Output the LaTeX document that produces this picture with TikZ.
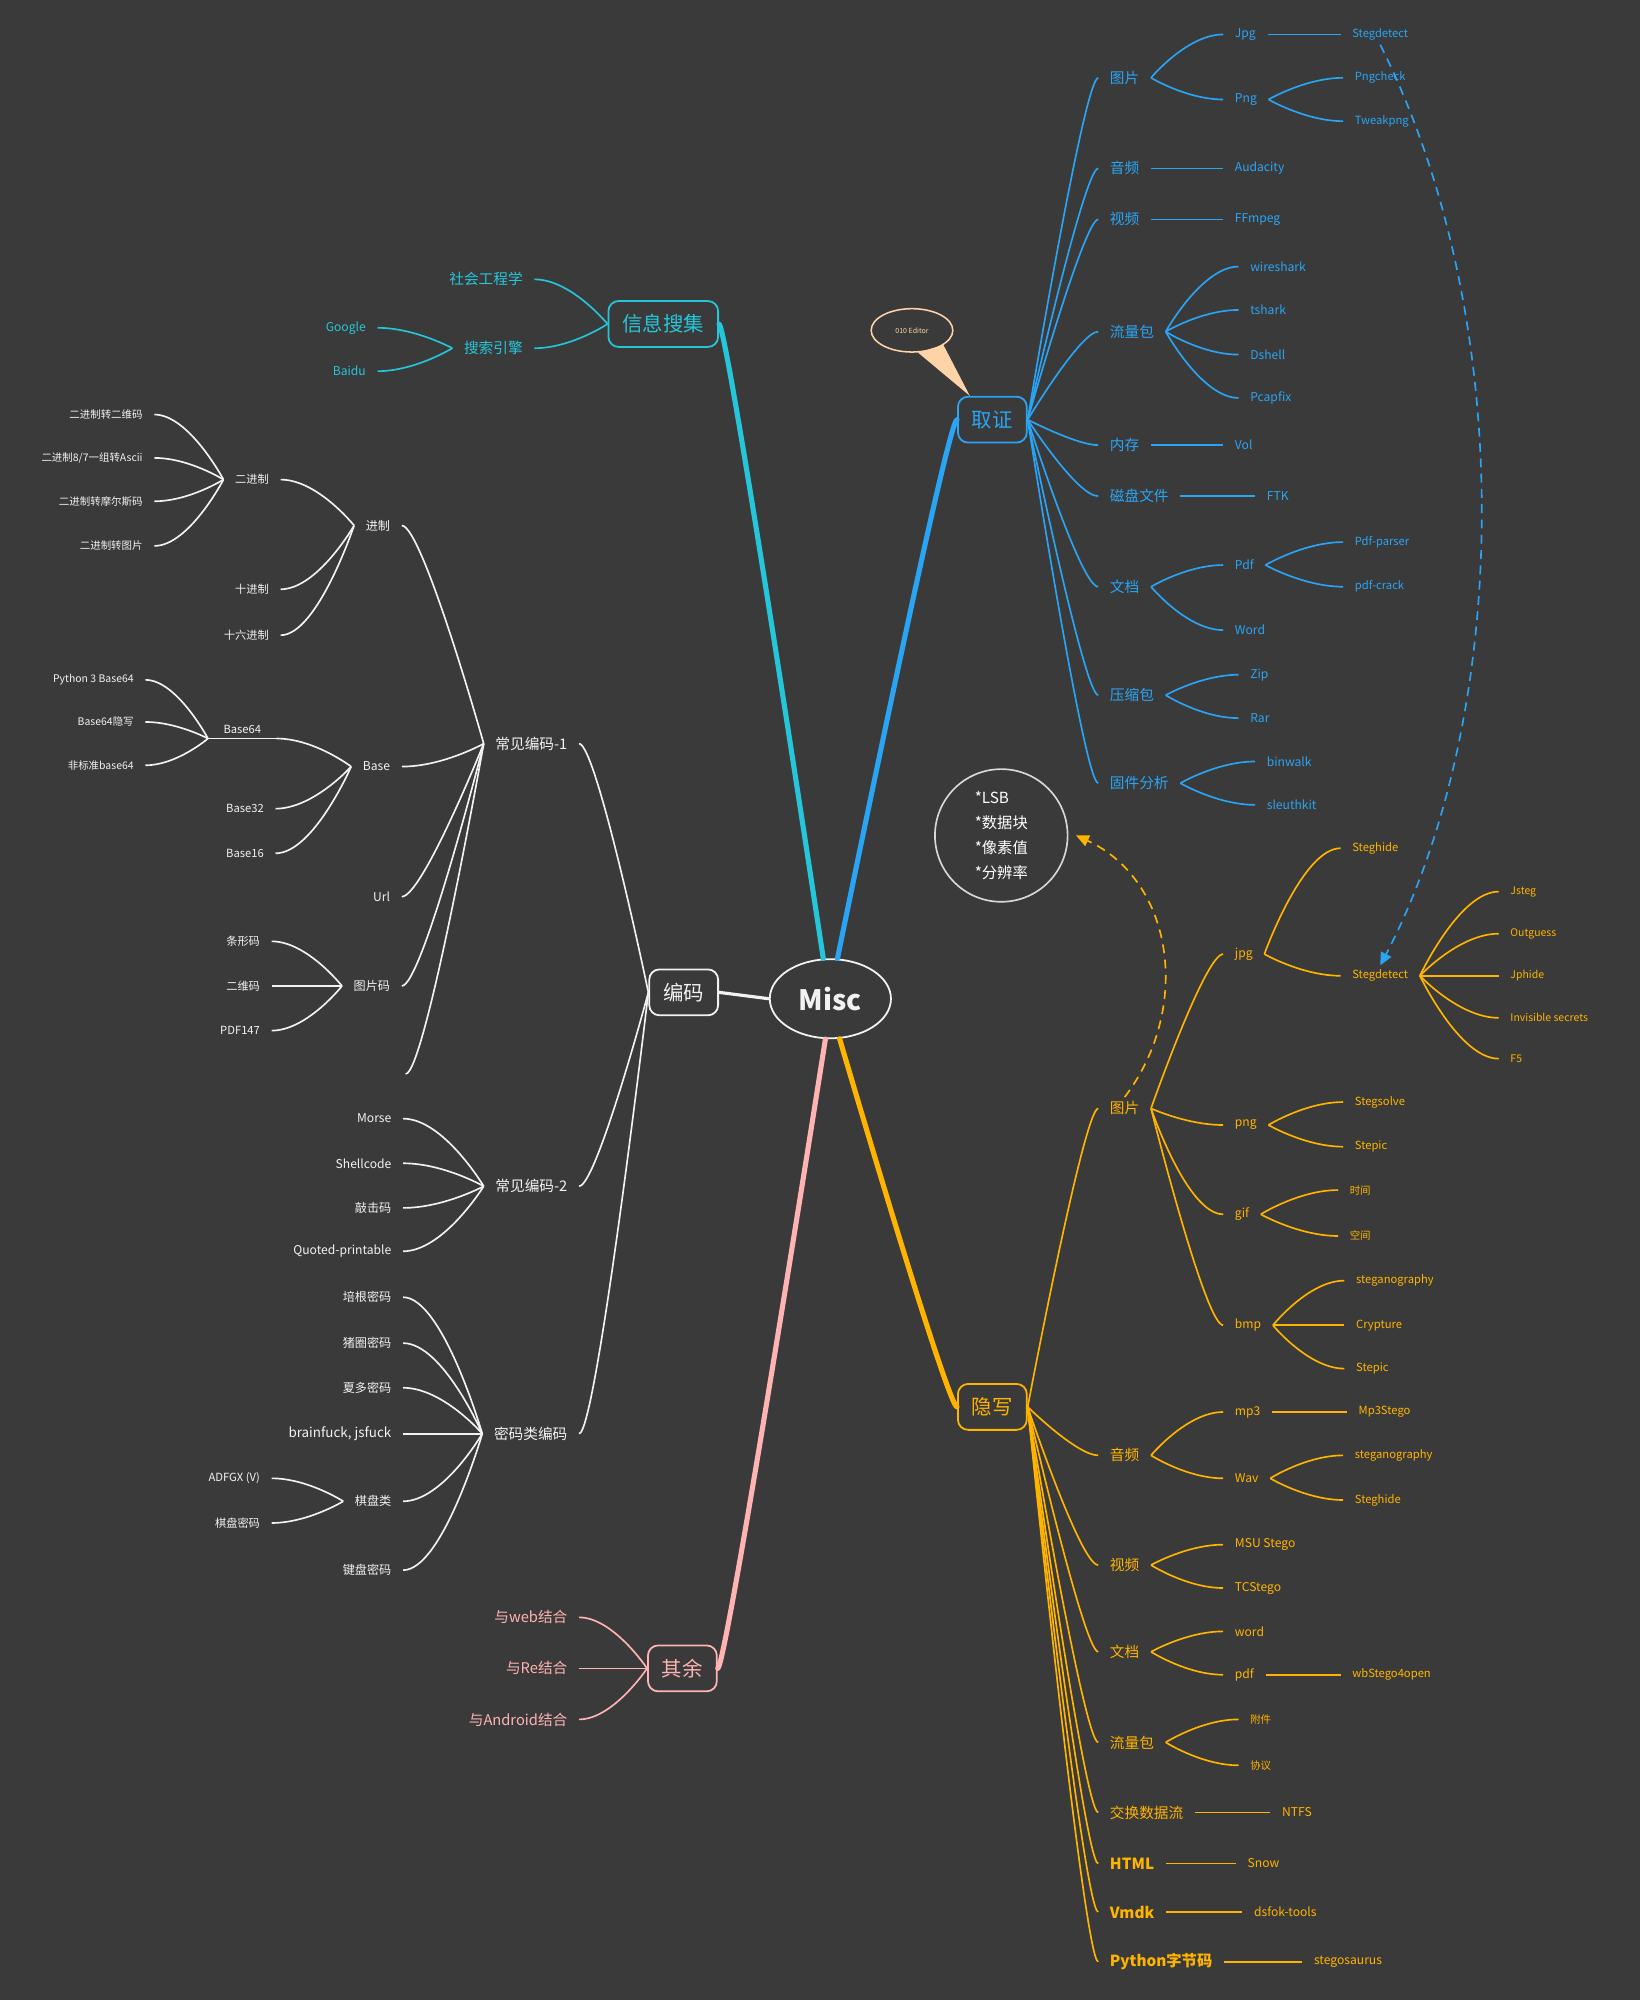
\documentclass[tikz,border=0pt]{standalone}
\usepackage{fontspec}
\setmainfont{Noto Sans CJK SC}
\usetikzlibrary{calc,shapes.geometric,arrows.meta}

\definecolor{bgc}{HTML}{3A3A3A}
\definecolor{cInfo}{HTML}{26C6DA}
\definecolor{cFore}{HTML}{2AA5F5}
\definecolor{cSteg}{HTML}{FFB400}
\definecolor{cRest}{HTML}{FFB3B3}
\definecolor{cCode}{HTML}{F2F2F2}
\definecolor{cPeach}{HTML}{FFD3A8}
\definecolor{cNote}{HTML}{D8D8D8}

\tikzset{
  fan/.style={to path={.. controls ($(\tikztostart)!#1!(\tikztostart-|\tikztotarget)$) and (\tikztotarget) .. (\tikztotarget)}},
  fan/.default=0.5,
  topic/.style={draw, rounded corners=8pt, line width=1.4pt, inner xsep=11pt, minimum width=54pt, minimum height=36pt, font=\fontsize{16}{18}\selectfont},
  lv2/.style={inner xsep=9pt, font=\fontsize{11.5}{13}\selectfont},
  lv3/.style={inner xsep=9pt, font=\fontsize{9.5}{11}\selectfont},
  lv4/.style={inner xsep=9pt, font=\fontsize{8.8}{10}\selectfont},
  lv5/.style={inner xsep=9pt, font=\fontsize{8.2}{9}\selectfont},
  big/.style={inner xsep=9pt, font=\fontsize{12}{14}\selectfont\bfseries},
  twig/.style={line width=1.3pt},
  bough/.style={line width=4pt, line cap=round},
}

\begin{document}
\begin{tikzpicture}[x=1pt, y=-1pt]
      \fill[bgc] (0,0) rectangle (1286,1568);
      \useasboundingbox (0,0) rectangle (1286,1568);

      \node[ellipse, draw=cCode, line width=1.4pt, minimum width=95pt, minimum height=62pt, text=cCode, font=\fontsize{22}{24}\selectfont\bfseries] (misc) at (651,783) {Misc};

      \node[topic, cInfo] (xinxi) at (520,254) {信息搜集};
      \node[lv2, cInfo, anchor=east] (shehui) at (419,219) {社会工程学};
      \node[lv2, cInfo, anchor=east] (search) at (419,273) {搜索引擎};
      \node[lv3, cInfo, anchor=east] (google) at (296,257) {Google};
      \node[lv3, cInfo, anchor=east] (baidu) at (296,291) {Baidu};

      \node[topic, cFore] (quzheng) at (778,329) {取证};
      \node[ellipse, draw=cPeach, line width=1.2pt, minimum width=64pt, minimum height=34pt, text=cPeach, font=\fontsize{5.5}{6}\selectfont] (edit) at (715,259) {010 Editor};
      \node[lv2, cFore, anchor=west] (fPic) at (861,61) {图片};
      \node[lv2, cFore, anchor=west] (fAud) at (861,132) {音频};
      \node[lv2, cFore, anchor=west] (fVid) at (861,172) {视频};
      \node[lv2, cFore, anchor=west] (fPcap) at (861,260) {流量包};
      \node[lv2, cFore, anchor=west] (fMem) at (861,349) {内存};
      \node[lv2, cFore, anchor=west] (fDisk) at (861,389) {磁盘文件};
      \node[lv2, cFore, anchor=west] (fDoc) at (861,460) {文档};
      \node[lv2, cFore, anchor=west] (fZip) at (861,545) {压缩包};
      \node[lv2, cFore, anchor=west] (fFw) at (861,614) {固件分析};
      \node[lv3, cFore, anchor=west] (fJpg) at (959,27) {Jpg};
      \node[lv3, cFore, anchor=west] (fPng) at (959,78) {Png};
      \node[lv3, cFore, anchor=west] (fAudacity) at (959,132) {Audacity};
      \node[lv3, cFore, anchor=west] (fFfmpeg) at (959,172) {FFmpeg};
      \node[lv3, cFore, anchor=west] (fWire) at (971,209) {wireshark};
      \node[lv3, cFore, anchor=west] (fTshark) at (971,243) {tshark};
      \node[lv3, cFore, anchor=west] (fDshell) at (971,278) {Dshell};
      \node[lv3, cFore, anchor=west] (fPcapfix) at (971,312) {Pcapfix};
      \node[lv3, cFore, anchor=west] (fVol) at (959,349) {Vol};
      \node[lv3, cFore, anchor=west] (fFtk) at (984,389) {FTK};
      \node[lv3, cFore, anchor=west] (fPdf) at (959,443) {Pdf};
      \node[lv3, cFore, anchor=west] (fWord) at (959,494) {Word};
      \node[lv3, cFore, anchor=west] (fZipA) at (971,529) {Zip};
      \node[lv3, cFore, anchor=west] (fRar) at (971,563) {Rar};
      \node[lv3, cFore, anchor=west] (fBinwalk) at (984,597) {binwalk};
      \node[lv3, cFore, anchor=west] (fSleuth) at (984,631) {sleuthkit};
      \node[lv4, cFore, anchor=west] (fStegdet) at (1051,27) {Stegdetect};
      \node[lv4, cFore, anchor=west] (fPngcheck) at (1053,61) {Pngcheck};
      \node[lv4, cFore, anchor=west] (fTweak) at (1053,95) {Tweakpng};
      \node[lv4, cFore, anchor=west] (fParser) at (1053,425) {Pdf-parser};
      \node[lv4, cFore, anchor=west] (fCrack) at (1053,460) {pdf-crack};

      \node[circle, draw=cNote, line width=1.3pt, minimum size=104pt, inner sep=0pt, align=left, text=white, font=\fontsize{12}{19.5}\selectfont] (lsb) at (785,655) {*LSB\\*数据块\\*像素值\\*分辨率};

      \node[topic, cSteg] (yinxie) at (778,1103) {隐写};
      \node[lv2, cSteg, anchor=west] (sPic) at (861,869) {图片};
      \node[lv2, cSteg, anchor=west] (sAud) at (861,1141) {音频};
      \node[lv2, cSteg, anchor=west] (sVid) at (861,1227) {视频};
      \node[lv2, cSteg, anchor=west] (sDoc) at (861,1295) {文档};
      \node[lv2, cSteg, anchor=west] (sPcap) at (861,1366) {流量包};
      \node[lv2, cSteg, anchor=west] (sAds) at (861,1421) {交换数据流};
      \node[big, cSteg, anchor=west] (sHtml) at (861,1461) {HTML};
      \node[big, cSteg, anchor=west] (sVmdk) at (861,1499) {Vmdk};
      \node[big, cSteg, anchor=west] (sPyc) at (861,1538) {Python字节码};
      \node[lv3, cSteg, anchor=west] (sJpg) at (959,748) {jpg};
      \node[lv3, cSteg, anchor=west] (sPng) at (959,882) {png};
      \node[lv3, cSteg, anchor=west] (sGif) at (959,952) {gif};
      \node[lv3, cSteg, anchor=west] (sBmp) at (959,1039) {bmp};
      \node[lv3, cSteg, anchor=west] (sMp3) at (959,1107) {mp3};
      \node[lv3, cSteg, anchor=west] (sWav) at (959,1159) {Wav};
      \node[lv3, cSteg, anchor=west] (sMsu) at (959,1211) {MSU Stego};
      \node[lv3, cSteg, anchor=west] (sTcs) at (959,1245) {TCStego};
      \node[lv3, cSteg, anchor=west] (sWord) at (959,1279) {word};
      \node[lv3, cSteg, anchor=west] (sPdf) at (959,1313) {pdf};
      \node[lv5, cSteg, anchor=west] (sAtt) at (971,1348) {附件};
      \node[lv5, cSteg, anchor=west] (sProto) at (971,1384) {协议};
      \node[lv3, cSteg, anchor=west] (sNtfs) at (996,1421) {NTFS};
      \node[lv3, cSteg, anchor=west] (sSnow) at (969,1461) {Snow};
      \node[lv3, cSteg, anchor=west] (sDsfok) at (974,1499) {dsfok-tools};
      \node[lv3, cSteg, anchor=west] (sSaurus) at (1021,1538) {stegosaurus};
      \node[lv4, cSteg, anchor=west] (sSteghide) at (1051,665) {Steghide};
      \node[lv4, cSteg, anchor=west] (sStegdet) at (1051,765) {Stegdetect};
      \node[lv4, cSteg, anchor=west] (sSolve) at (1053,864) {Stegsolve};
      \node[lv4, cSteg, anchor=west] (sStepicA) at (1053,899) {Stepic};
      \node[lv5, cSteg, anchor=west] (sTime) at (1049,933) {时间};
      \node[lv5, cSteg, anchor=west] (sSpace) at (1049,969) {空间};
      \node[lv4, cSteg, anchor=west] (sStegoA) at (1054,1004) {steganography};
      \node[lv4, cSteg, anchor=west] (sCrypt) at (1054,1039) {Crypture};
      \node[lv4, cSteg, anchor=west] (sStepicB) at (1054,1073) {Stepic};
      \node[lv4, cSteg, anchor=west] (sMp3s) at (1056,1107) {Mp3Stego};
      \node[lv4, cSteg, anchor=west] (sStegoB) at (1053,1141) {steganography};
      \node[lv4, cSteg, anchor=west] (sSteghideB) at (1053,1176) {Steghide};
      \node[lv4, cSteg, anchor=west] (sWbs) at (1051,1313) {wbStego4open};
      \node[lv5, cSteg, anchor=west] (sJsteg) at (1175,699) {Jsteg};
      \node[lv5, cSteg, anchor=west] (sOutg) at (1175,732) {Outguess};
      \node[lv5, cSteg, anchor=west] (sJphide) at (1175,765) {Jphide};
      \node[lv5, cSteg, anchor=west] (sInvis) at (1175,798) {Invisible secrets};
      \node[lv5, cSteg, anchor=west] (sF5) at (1175,830) {F5};

      \node[topic, cCode] (bianma) at (536,778) {编码};
      \node[lv2, cCode, anchor=east] (c1) at (454,583) {常见编码-1};
      \node[lv2, cCode, anchor=east] (c2) at (454,930) {常见编码-2};
      \node[lv2, cCode, anchor=east] (c3) at (454,1124) {密码类编码};
      \node[lv3, cCode, anchor=east] (jz) at (315,412) {进制};
      \node[lv3, cCode, anchor=east] (base) at (315,601) {Base};
      \node[lv3, cCode, anchor=east] (url) at (315,703) {Url};
      \node[lv3, cCode, anchor=east] (tpm) at (315,773) {图片码};
      \coordinate (blank) at (318,842);
      \node[lv3, cCode, anchor=east] (morse) at (316,877) {Morse};
      \node[lv3, cCode, anchor=east] (shell) at (316,912) {Shellcode};
      \node[lv3, cCode, anchor=east] (qiao) at (316,947) {敲击码};
      \node[lv3, cCode, anchor=east] (qp) at (316,981) {Quoted-printable};
      \node[lv3, cCode, anchor=east] (peigen) at (316,1017) {培根密码};
      \node[lv3, cCode, anchor=east] (zhuquan) at (316,1053) {猪圈密码};
      \node[lv3, cCode, anchor=east] (xiaduo) at (316,1088) {夏多密码};
      \node[inner xsep=9pt, font=\fontsize{10.5}{12}\selectfont, cCode, anchor=east] (bf) at (316,1124) {brainfuck, jsfuck};
      \node[lv3, cCode, anchor=east] (qpl) at (316,1177) {棋盘类};
      \node[lv3, cCode, anchor=east] (jianpan) at (316,1231) {键盘密码};
      \node[lv4, cCode, anchor=east] (ejz) at (220,376) {二进制};
      \node[lv4, cCode, anchor=east] (sjz) at (220,462) {十进制};
      \node[lv4, cCode, anchor=east] (sljz) at (220,498) {十六进制};
      \node[lv4, cCode, anchor=south, inner xsep=12pt] (b64) at (190,579) {Base64};
      \node[lv4, cCode, anchor=east] (b32) at (216,634) {Base32};
      \node[lv4, cCode, anchor=east] (b16) at (216,669) {Base16};
      \node[lv4, cCode, anchor=east] (txm) at (213,738) {条形码};
      \node[lv4, cCode, anchor=east] (ewm) at (213,773) {二维码};
      \node[lv4, cCode, anchor=east] (pdfm) at (213,808) {PDF147};
      \node[lv4, cCode, anchor=east] (adfgx) at (213,1159) {ADFGX (V)};
      \node[lv4, cCode, anchor=east] (qpmm) at (213,1194) {棋盘密码};
      \node[lv5, cCode, anchor=east] (e1) at (121,325) {二进制转二维码};
      \node[lv5, cCode, anchor=east] (e2) at (121,359) {二进制8/7一组转Ascii};
      \node[lv5, cCode, anchor=east] (e3) at (121,393) {二进制转摩尔斯码};
      \node[lv5, cCode, anchor=east] (e4) at (121,428) {二进制转图片};
      \node[lv5, cCode, anchor=east] (p3) at (114,533) {Python 3 Base64};
      \node[lv5, cCode, anchor=east] (b64h) at (114,566) {Base64隐写};
      \node[lv5, cCode, anchor=east] (fbz) at (114,600) {非标准base64};

      \node[topic, cRest] (qiyu) at (535,1308) {其余};
      \node[lv2, cRest, anchor=east] (r1) at (454,1268) {与web结合};
      \node[lv2, cRest, anchor=east] (r2) at (454,1308) {与Re结合};
      \node[lv2, cRest, anchor=east] (r3) at (454,1348) {与Android结合};

      \path [cInfo, bough] (xinxi.east) edge[fan=0.08] (misc.100);
      \path [cFore, bough] (quzheng.west) edge[fan=0.08] (misc.80);
      \path [cSteg, bough] (yinxie.west) edge[fan=0.08] (misc.283);
      \path [cRest, bough] (qiyu.east) edge[fan=0.08] (misc.263);
      \path [cCode, line width=2.5pt] (bianma.east) edge (misc.west);

      \path [cInfo, twig] (shehui.east) edge[fan] (xinxi.west);
      \path [cInfo, twig] (search.east) edge[fan] (xinxi.west);
      \path [cInfo, twig] (google.east) edge[fan] (search.west);
      \path [cInfo, twig] (baidu.east) edge[fan] (search.west);

      \fill [cPeach] (edit.-75) -- (edit.-25) -- ([xshift=10pt]quzheng.north west) -- cycle;
      \path [cFore, twig] (fPic.west) edge[fan=0.2] (quzheng.east);
      \path [cFore, twig] (fAud.west) edge[fan=0.2] (quzheng.east);
      \path [cFore, twig] (fVid.west) edge[fan=0.2] (quzheng.east);
      \path [cFore, twig] (fPcap.west) edge[fan=0.25] (quzheng.east);
      \path [cFore, twig] (fMem.west) edge[fan=0.3] (quzheng.east);
      \path [cFore, twig] (fDisk.west) edge[fan=0.3] (quzheng.east);
      \path [cFore, twig] (fDoc.west) edge[fan=0.25] (quzheng.east);
      \path [cFore, twig] (fZip.west) edge[fan=0.2] (quzheng.east);
      \path [cFore, twig] (fFw.west) edge[fan=0.2] (quzheng.east);
      \path [cFore, twig] (fJpg.west) edge[fan] (fPic.east);
      \path [cFore, twig] (fPng.west) edge[fan] (fPic.east);
      \path [cFore, twig] (fJpg.east) edge (fStegdet.west);
      \path [cFore, twig] (fPngcheck.west) edge[fan] (fPng.east);
      \path [cFore, twig] (fTweak.west) edge[fan] (fPng.east);
      \path [cFore, twig] (fAud.east) edge (fAudacity.west);
      \path [cFore, twig] (fVid.east) edge (fFfmpeg.west);
      \path [cFore, twig] (fWire.west) edge[fan] (fPcap.east);
      \path [cFore, twig] (fTshark.west) edge[fan] (fPcap.east);
      \path [cFore, twig] (fDshell.west) edge[fan] (fPcap.east);
      \path [cFore, twig] (fPcapfix.west) edge[fan] (fPcap.east);
      \path [cFore, twig] (fMem.east) edge (fVol.west);
      \path [cFore, twig] (fDisk.east) edge (fFtk.west);
      \path [cFore, twig] (fPdf.west) edge[fan] (fDoc.east);
      \path [cFore, twig] (fWord.west) edge[fan] (fDoc.east);
      \path [cFore, twig] (fParser.west) edge[fan] (fPdf.east);
      \path [cFore, twig] (fCrack.west) edge[fan] (fPdf.east);
      \path [cFore, twig] (fZipA.west) edge[fan] (fZip.east);
      \path [cFore, twig] (fRar.west) edge[fan] (fZip.east);
      \path [cFore, twig] (fBinwalk.west) edge[fan] (fFw.east);
      \path [cFore, twig] (fSleuth.west) edge[fan] (fFw.east);
      \draw [cFore, twig, dash pattern=on 7pt off 5pt, -{Triangle[length=10pt,width=9pt]}] (fStegdet.south) .. controls (1190,250) and (1185,560) .. (sStegdet.north);

      \path [cSteg, twig] (sPic.west) edge[fan=0.2] (yinxie.east);
      \path [cSteg, twig] (sAud.west) edge[fan=0.3] (yinxie.east);
      \path [cSteg, twig] (sVid.west) edge[fan=0.25] (yinxie.east);
      \path [cSteg, twig] (sDoc.west) edge[fan=0.2] (yinxie.east);
      \path [cSteg, twig] (sPcap.west) edge[fan=0.2] (yinxie.east);
      \path [cSteg, twig] (sAds.west) edge[fan=0.2] (yinxie.east);
      \path [cSteg, twig] (sHtml.west) edge[fan=0.2] (yinxie.east);
      \path [cSteg, twig] (sVmdk.west) edge[fan=0.2] (yinxie.east);
      \path [cSteg, twig] (sPyc.west) edge[fan=0.2] (yinxie.east);
      \path [cSteg, twig] (sJpg.west) edge[fan=0.25] (sPic.east);
      \path [cSteg, twig] (sPng.west) edge[fan] (sPic.east);
      \path [cSteg, twig] (sGif.west) edge[fan] (sPic.east);
      \path [cSteg, twig] (sBmp.west) edge[fan=0.25] (sPic.east);
      \path [cSteg, twig] (sSteghide.west) edge[fan] (sJpg.east);
      \path [cSteg, twig] (sStegdet.west) edge[fan] (sJpg.east);
      \path [cSteg, twig] (sJsteg.west) edge[fan] (sStegdet.east);
      \path [cSteg, twig] (sOutg.west) edge[fan] (sStegdet.east);
      \path [cSteg, twig] (sJphide.west) edge (sStegdet.east);
      \path [cSteg, twig] (sInvis.west) edge[fan] (sStegdet.east);
      \path [cSteg, twig] (sF5.west) edge[fan] (sStegdet.east);
      \path [cSteg, twig] (sSolve.west) edge[fan] (sPng.east);
      \path [cSteg, twig] (sStepicA.west) edge[fan] (sPng.east);
      \path [cSteg, twig] (sTime.west) edge[fan] (sGif.east);
      \path [cSteg, twig] (sSpace.west) edge[fan] (sGif.east);
      \path [cSteg, twig] (sStegoA.west) edge[fan] (sBmp.east);
      \path [cSteg, twig] (sCrypt.west) edge (sBmp.east);
      \path [cSteg, twig] (sStepicB.west) edge[fan] (sBmp.east);
      \path [cSteg, twig] (sMp3.west) edge[fan] (sAud.east);
      \path [cSteg, twig] (sWav.west) edge[fan] (sAud.east);
      \path [cSteg, twig] (sMp3.east) edge (sMp3s.west);
      \path [cSteg, twig] (sStegoB.west) edge[fan] (sWav.east);
      \path [cSteg, twig] (sSteghideB.west) edge[fan] (sWav.east);
      \path [cSteg, twig] (sMsu.west) edge[fan] (sVid.east);
      \path [cSteg, twig] (sTcs.west) edge[fan] (sVid.east);
      \path [cSteg, twig] (sWord.west) edge[fan] (sDoc.east);
      \path [cSteg, twig] (sPdf.west) edge[fan] (sDoc.east);
      \path [cSteg, twig] (sPdf.east) edge (sWbs.west);
      \path [cSteg, twig] (sAtt.west) edge[fan] (sPcap.east);
      \path [cSteg, twig] (sProto.west) edge[fan] (sPcap.east);
      \path [cSteg, twig] (sAds.east) edge (sNtfs.west);
      \path [cSteg, twig] (sHtml.east) edge (sSnow.west);
      \path [cSteg, twig] (sVmdk.east) edge (sDsfok.west);
      \path [cSteg, twig] (sPyc.east) edge (sSaurus.west);
      \draw [cSteg, twig, dash pattern=on 7pt off 5pt, -{Triangle[length=10pt,width=9pt]}] (sPic.north) .. controls (935,790) and (920,690) .. ([xshift=6pt]lsb.east);

      \path [cCode, twig] (c1.east) edge[fan=0.25] (bianma.west);
      \path [cCode, twig] (c2.east) edge[fan=0.25] (bianma.west);
      \path [cCode, twig] (c3.east) edge[fan=0.25] (bianma.west);
      \path [cCode, twig] (jz.east) edge[fan=0.25] (c1.west);
      \path [cCode, twig] (base.east) edge[fan] (c1.west);
      \path [cCode, twig] (url.east) edge[fan=0.25] (c1.west);
      \path [cCode, twig] (tpm.east) edge[fan=0.25] (c1.west);
      \path [cCode, twig] (blank) edge[fan=0.25] (c1.west);
      \path [cCode, twig] (ejz.east) edge[fan] (jz.west);
      \path [cCode, twig] (sjz.east) edge[fan] (jz.west);
      \path [cCode, twig] (sljz.east) edge[fan] (jz.west);
      \path [cCode, twig] (e1.east) edge[fan] (ejz.west);
      \path [cCode, twig] (e2.east) edge[fan] (ejz.west);
      \path [cCode, twig] (e3.east) edge[fan] (ejz.west);
      \path [cCode, twig] (e4.east) edge[fan] (ejz.west);
      \path [cCode, twig] (b64.south west) edge (b64.south east);
      \path [cCode, twig] (b64.south east) edge[fan] (base.west);
      \path [cCode, twig] (b32.east) edge[fan] (base.west);
      \path [cCode, twig] (b16.east) edge[fan] (base.west);
      \path [cCode, twig] (p3.east) edge[fan] (b64.south west);
      \path [cCode, twig] (b64h.east) edge[fan] (b64.south west);
      \path [cCode, twig] (fbz.east) edge[fan] (b64.south west);
      \path [cCode, twig] (txm.east) edge[fan] (tpm.west);
      \path [cCode, twig] (ewm.east) edge (tpm.west);
      \path [cCode, twig] (pdfm.east) edge[fan] (tpm.west);
      \path [cCode, twig] (morse.east) edge[fan] (c2.west);
      \path [cCode, twig] (shell.east) edge[fan] (c2.west);
      \path [cCode, twig] (qiao.east) edge[fan] (c2.west);
      \path [cCode, twig] (qp.east) edge[fan] (c2.west);
      \path [cCode, twig] (peigen.east) edge[fan] (c3.west);
      \path [cCode, twig] (zhuquan.east) edge[fan] (c3.west);
      \path [cCode, twig] (xiaduo.east) edge[fan] (c3.west);
      \path [cCode, twig] (bf.east) edge (c3.west);
      \path [cCode, twig] (qpl.east) edge[fan] (c3.west);
      \path [cCode, twig] (jianpan.east) edge[fan] (c3.west);
      \path [cCode, twig] (adfgx.east) edge[fan] (qpl.west);
      \path [cCode, twig] (qpmm.east) edge[fan] (qpl.west);

      \path [cRest, twig] (r1.east) edge[fan] (qiyu.west);
      \path [cRest, twig] (r2.east) edge (qiyu.west);
      \path [cRest, twig] (r3.east) edge[fan] (qiyu.west);
    \end{tikzpicture}
\end{document}
